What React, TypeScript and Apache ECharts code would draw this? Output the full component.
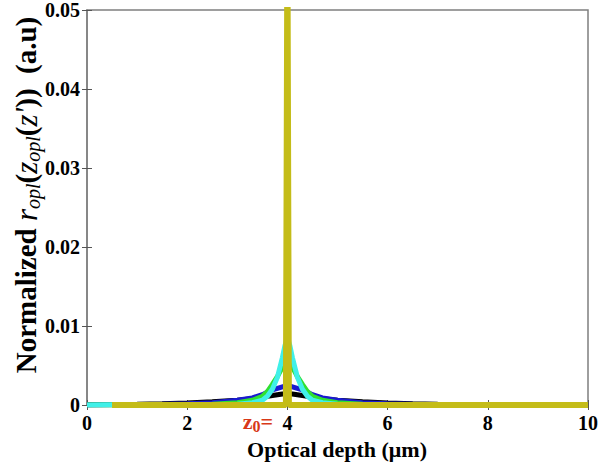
import React, { useEffect, useRef } from "react";
import * as echarts from "echarts";

const xTicks = [0, 2, 4, 6, 8, 10];
const yTicks = [0, 0.01, 0.02, 0.03, 0.04, 0.05];

const xs = [0, 0.5, 1, 1.5, 2, 2.5, 3, 3.3, 3.5, 3.6, 3.7, 3.8, 3.9, 3.95, 4, 4.05, 4.1, 4.2, 4.3, 4.4, 4.5, 4.7, 5, 5.5, 6, 6.5, 7, 8, 9, 10];

const blackVals = [0.00002, 0.00005, 0.0001, 0.00016, 0.00025, 0.0004, 0.0006, 0.0008, 0.001, 0.0011, 0.0012, 0.0013, 0.0014, 0.0014, 0.0014, 0.0014, 0.0014, 0.0013, 0.0012, 0.0011, 0.001, 0.0008, 0.0006, 0.0004, 0.00025, 0.00016, 0.0001, 0.00005, 0.00003, 0.00002];
const blueVals = [0.00001, 0.00003, 0.00006, 0.0001, 0.00015, 0.0003, 0.0006, 0.0009, 0.0013, 0.0016, 0.0019, 0.0021, 0.0023, 0.0024, 0.0024, 0.0024, 0.0023, 0.0021, 0.0019, 0.0016, 0.0013, 0.0009, 0.0006, 0.0003, 0.00015, 0.0001, 0.00006, 0.00003, 0.00002, 0.00001];
const greenVals = [0.00001, 0.00001, 0.00002, 0.00003, 0.00005, 0.0001, 0.0003, 0.0006, 0.0011, 0.0017, 0.0026, 0.0036, 0.0048, 0.0056, 0.006, 0.0056, 0.0048, 0.0036, 0.0026, 0.0017, 0.0011, 0.0006, 0.0003, 0.0001, 0.00005, 0.00003, 0.00002, 0.00001, 0.00001, 0.00001];
const cyanVals = [0.00001, 0.00002, 0.00002, 0.00002, 0.00002, 0.00003, 0.0001, 0.0003, 0.0006, 0.0011, 0.002, 0.0035, 0.006, 0.0075, 0.0085, 0.0075, 0.006, 0.0035, 0.002, 0.0011, 0.0006, 0.0003, 0.0001, 0.00003, 0.00002, 0.00002, 0.00001, 0.00001, 0.00001, 0.00001];
const yellowXs = [0.5, 1, 2, 3, 3.97, 4, 4.03, 5, 6, 7, 8, 9, 10];
const yellowVals = [0.00001, 0.00001, 0.00001, 0.00001, 0.00001, 0.06, 0.00001, 0.00001, 0.00001, 0.00001, 0.00001, 0.00001, 0.00001];

const pair = (x: number[], y: number[]) => x.map((v, i) => [v, y[i]]);

export default function App() {
  const ref = useRef<HTMLDivElement>(null);
  useEffect(() => {
    document.body.style.margin = "0";
    const chart = echarts.init(ref.current!, null, { renderer: "svg" });
    const font = "'Liberation Serif', 'DejaVu Serif', serif";
    const gray = "#7f7f7f";
    const mk = (name: string, data: number[][], color: string, w: number, z: number) => ({
      type: "line",
      name,
      data,
      showSymbol: false,
      symbol: "none",
      clip: true,
      z,
      lineStyle: { color, width: w },
    });
    const tickStyle = { inside: true, length: 5, lineStyle: { color: "#555" } };
    chart.setOption({
      animation: false,
      backgroundColor: "#fff",
      grid: {
        left: 87,
        right: 12,
        top: 10,
        bottom: 62,
        show: true,
        borderColor: gray,
        borderWidth: 1.5,
        containLabel: false,
        outerBoundsMode: "none",
      },
      xAxis: [
        {
          type: "value",
          min: 0,
          max: 10,
          interval: 2,
          axisLine: { lineStyle: { color: gray, width: 1.5 } },
          axisTick: tickStyle,
          splitLine: { show: false },
          axisLabel: {
            color: "#000",
            fontFamily: font,
            fontWeight: "bold",
            fontSize: 20,
            margin: 8,
            formatter: (v: number) => (xTicks.includes(v) ? String(v) : ""),
          },
        },
        {
          type: "value",
          position: "top",
          min: 0,
          max: 10,
          interval: 2,
          axisLine: { show: false },
          axisTick: tickStyle,
          splitLine: { show: false },
          axisLabel: { show: false },
        },
      ],
      yAxis: [
        {
          type: "value",
          min: 0,
          max: 0.05,
          interval: 0.01,
          axisLine: { show: true, lineStyle: { color: gray, width: 1.5 } },
          axisTick: { show: true, ...tickStyle },
          splitLine: { show: false },
          axisLabel: {
            color: "#000",
            fontFamily: font,
            fontWeight: "bold",
            fontSize: 20,
            margin: 7,
            formatter: (v: number) => {
              const t = yTicks.find((y) => Math.abs(y - v) < 1e-9);
              return t === undefined ? "" : t === 0 ? "0" : t.toFixed(2);
            },
          },
        },
        {
          type: "value",
          position: "right",
          min: 0,
          max: 0.05,
          interval: 0.01,
          axisLine: { show: false },
          axisTick: { show: true, ...tickStyle },
          splitLine: { show: false },
          axisLabel: { show: false },
        },
      ],
      series: [
        mk("black", pair(xs, blackVals), "#000000", 5, 2),
        mk("blue", pair(xs, blueVals), "#1a1ad0", 5, 3),
        mk("green", pair(xs, greenVals), "#30e030", 5, 4),
        mk("cyan", pair(xs, cyanVals), "#40f0e8", 5, 5),
        mk("yellow", pair(yellowXs, yellowVals), "#c4bc18", 6, 6),
      ],
      graphic: [
        {
          type: "text",
          x: 26,
          y: 195,
          rotation: Math.PI / 2,
          style: {
            text: "{n|Normalized }{i|r}{s|opl}{n|(}{i|z}{s|opl}{n|(}{i|z'}{n|))  (a.u)}",
            fill: "#000",
            align: "center",
            verticalAlign: "middle",
            rich: {
              n: { fontFamily: font, fontWeight: "bold", fontSize: 29, fill: "#000", lineHeight: 34 },
              i: { fontFamily: font, fontStyle: "italic", fontSize: 31, fill: "#000", lineHeight: 34 },
              s: { fontFamily: font, fontStyle: "italic", fontSize: 20, fill: "#000", lineHeight: 34, verticalAlign: "bottom", padding: [12, 0, 0, 0] },
            },
          },
        },
        {
          type: "text",
          x: 337,
          y: 449,
          style: {
            text: "Optical depth (\u03bcm)",
            fill: "#000",
            font: `bold 22px ${font}`,
            align: "center",
            verticalAlign: "middle",
          },
        },
        {
          type: "text",
          x: 273,
          y: 421,
          style: {
            text: "{z|z}{s|0}{z|=}",
            align: "right",
            verticalAlign: "middle",
            rich: {
              z: { fontFamily: font, fontWeight: "bold", fontSize: 22, fill: "#d83818", lineHeight: 26 },
              s: { fontFamily: font, fontWeight: "bold", fontSize: 16, fill: "#d83818", lineHeight: 26, verticalAlign: "bottom", padding: [14, 0, 0, 0] },
            },
          },
        },
      ],
    });
    return () => chart.dispose();
  }, []);
  return <div ref={ref} style={{ width: 600, height: 467 }} />;
}
